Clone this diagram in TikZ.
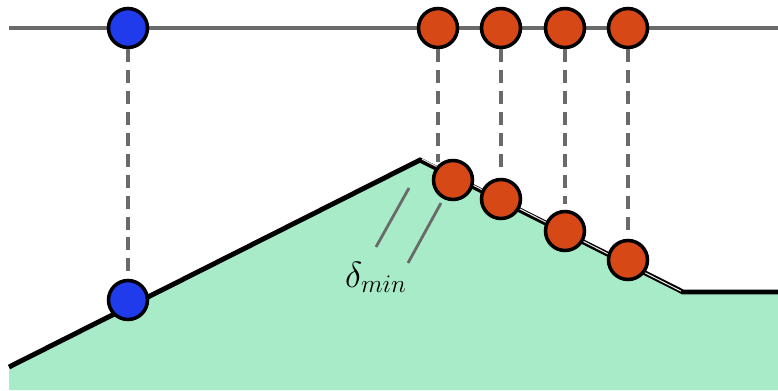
\documentclass[tikz,border=0pt]{standalone}
\usetikzlibrary{calc}
\definecolor{ground}{HTML}{A8EBC8}
\definecolor{blue}{HTML}{1F3BEB}
\definecolor{orange}{HTML}{D64916}
\definecolor{rail}{HTML}{6A6A6A}
\tikzset{dot/.style={circle,draw=black,line width=2pt,minimum size=0.78cm,inner sep=0pt},proj/.style={draw=rail,line width=2pt,dash pattern=on 7.4pt off 4.5pt},surf/.style={draw=black,line width=2.8pt,line join=miter}}
\begin{document}
\begin{tikzpicture}[x=0.02cm,y=-0.02cm]
\useasboundingbox (0,0) rectangle (778,390);
% ground profile
\coordinate (start) at (9,367);
\coordinate (peak) at (420,160);
\coordinate (knee) at (683,292);
\coordinate (end) at (778,292);
\fill[ground] (start)--(peak)--(knee)--(end)--(778,390)--(9,390)--cycle;
\draw[surf] (start)--(peak)--(knee)--(end);
\draw[white!80!gray,line width=0.6pt] ($(peak)+(2,-0.9)$)--($(knee)+(-2,-0.9)$);
% top rail
\draw[rail,line width=1.9pt] (9,28)--(778,28);
\node[dot,fill=blue] (b1) at (128,28) {};
\node[dot,fill=orange] (o1) at (438,28) {};
\node[dot,fill=orange] (o2) at (501,28) {};
\node[dot,fill=orange] (o3) at (565,28) {};
\node[dot,fill=orange] (o4) at (628,28) {};
% projected points
\node[dot,fill=blue] (b2) at (128,300) {};
\coordinate (c1) at (438,162);
\node[dot,fill=orange] (p2) at (501,199) {};
\node[dot,fill=orange] (p3) at (565,231) {};
\node[dot,fill=orange] (p4) at (628,260) {};
\node[dot,fill=orange] (p1) at (453,180) {};
\draw[proj] (b1)--(b2);
\draw[proj] (o1)--(c1);
\draw[proj,shorten >=3pt] (o2)--(p2);
\draw[proj,shorten >=3pt] (o3)--(p3);
\draw[proj,shorten >=3pt] (o4)--(p4);
% minimum distance
\coordinate (d1) at (409,188); \coordinate (d2) at (376,247);
\coordinate (d3) at (441,203); \coordinate (d4) at (408,263);
\draw[rail,line width=1.6pt] (d1)--(d2);
\draw[rail,line width=1.6pt] (d3)--(d4);
\node[font=\fontsize{19.5}{23}\selectfont,anchor=base,inner sep=0pt] (dmin) at (376,287) {$\delta_{min}$};
\end{tikzpicture}
\end{document}
